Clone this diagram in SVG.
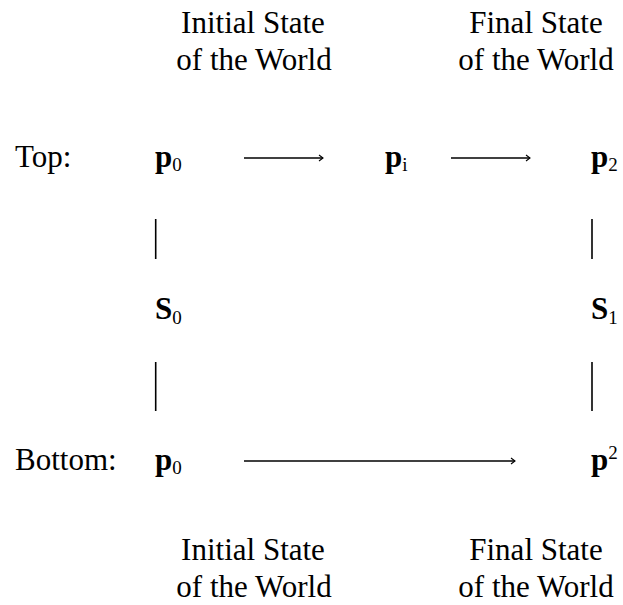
<svg xmlns="http://www.w3.org/2000/svg" width="623" height="605" viewBox="0 0 623 605" font-family="'Liberation Serif', 'DejaVu Serif', serif">
<style>
text{font-family:'Liberation Serif','DejaVu Serif',serif;fill:#000}
.lbl{font-size:31px}
.hd{font-size:31px;text-anchor:middle}
.v{font-size:31px;font-weight:bold}
.s{font-size:19px;font-weight:normal}
.ln{stroke:#000;stroke-width:1.6;fill:none}
</style>
<defs>
<marker id="ah" viewBox="0 0 10 10" refX="9" refY="5" markerWidth="10" markerHeight="10" markerUnits="userSpaceOnUse" orient="auto">
<path d="M5,2 L9,5 L5,8" fill="none" stroke="#000" stroke-width="1.1"/>
</marker>
</defs>
<rect width="623" height="605" fill="#fff"/>
<g id="header-top">
<text class="hd" x="253" y="33">Initial State</text>
<text class="hd" x="254" y="70">of the World</text>
<text class="hd" x="536" y="33">Final State</text>
<text class="hd" x="536" y="70">of the World</text>
</g>
<g id="header-bottom">
<text class="hd" x="253" y="560">Initial State</text>
<text class="hd" x="254" y="597">of the World</text>
<text class="hd" x="536" y="560">Final State</text>
<text class="hd" x="536" y="597">of the World</text>
</g>
<g id="row-labels">
<text class="lbl" x="15" y="167">Top:</text>
<text class="lbl" x="15" y="470">Bottom:</text>
</g>
<g id="node-p0-top"><text class="v" x="155" y="167">p<tspan class="s" dy="4">0</tspan></text></g>
<g id="node-pi"><text class="v" x="385" y="167">p<tspan class="s" dy="4">i</tspan></text></g>
<g id="node-p2"><text class="v" x="591" y="167">p<tspan class="s" dy="4">2</tspan></text></g>
<g id="node-S0"><text class="v" x="155" y="319">S<tspan class="s" dy="5">0</tspan></text></g>
<g id="node-S1"><text class="v" x="591" y="319">S<tspan class="s" dy="5">1</tspan></text></g>
<g id="node-p0-bottom"><text class="v" x="155" y="470">p<tspan class="s" dy="4">0</tspan></text></g>
<g id="node-p-sup2"><text class="v" x="591" y="470">p<tspan class="s" dy="-11">2</tspan></text></g>
<g id="connectors">
<line class="ln" x1="244" y1="158" x2="323" y2="158" marker-end="url(#ah)"/>
<line class="ln" x1="451" y1="158" x2="530" y2="158" marker-end="url(#ah)"/>
<line class="ln" x1="244" y1="461" x2="515" y2="461" marker-end="url(#ah)"/>
<line class="ln" x1="155.7" y1="219" x2="155.7" y2="259"/>
<line class="ln" x1="155.7" y1="362" x2="155.7" y2="411"/>
<line class="ln" x1="592" y1="219" x2="592" y2="259"/>
<line class="ln" x1="592" y1="362" x2="592" y2="411"/>
</g>
</svg>
